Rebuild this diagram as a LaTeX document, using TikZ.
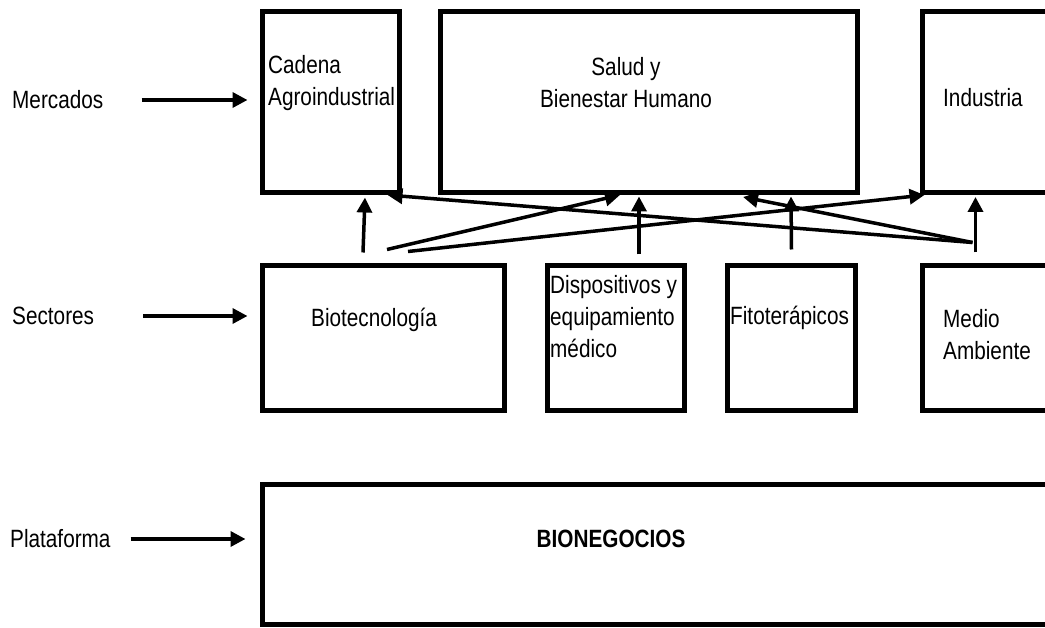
\documentclass[tikz,border=0pt]{standalone}
\usepackage{fontspec}
\setmainfont{Liberation Sans}[FakeStretch=0.83]
\usetikzlibrary{arrows.meta,calc}

\begin{document}
\begin{tikzpicture}[x=1pt,y=-1pt,
  caja/.style={draw,rectangle,line width=5pt,inner sep=0pt},
  texto/.style={inner sep=0pt,align=left,font=\fontsize{25}{32}\selectfont},
  flecha/.style={line width=3.5pt,-{Triangle[length=15pt,width=15pt]}}]

  \useasboundingbox (0,0) rectangle (1045,628);
  \clip (0,0) rectangle (1045,628);

  % mercados
  \node[caja,minimum width=137pt,minimum height=181pt] (cadena) at (331,102) {};
  \node[caja,minimum width=417pt,minimum height=181pt] (salud) at (649,102) {};
  \node[caja,minimum width=200pt,minimum height=181pt] (industria) at (1022.5,102) {};

  % sectores
  \node[caja,minimum width=242pt,minimum height=145pt] (bio) at (383.5,338) {};
  \node[caja,minimum width=137pt,minimum height=145pt] (disp) at (616,338) {};
  \node[caja,minimum width=128pt,minimum height=145pt] (fito) at (791.5,338) {};
  \node[caja,minimum width=200pt,minimum height=145pt] (medio) at (1022.5,338) {};

  % plataforma
  \node[caja,minimum width=900pt,minimum height=140pt] (bionegocios) at (712.5,554.5) {};

  \node[texto,anchor=west] (mercados) at (12,100) {Mercados};
  \node[texto,anchor=west] (sectores) at (12,316) {Sectores};
  \node[texto,anchor=west] (plataforma) at (10,539) {Plataforma};

  \node[texto,anchor=west] (tcadena) at (268,83) {Cadena\\Agroindustrial};
  \node[texto,align=center] (tsalud) at (626,83) {Salud y\\Bienestar Humano};
  \node[texto,anchor=west] (tindustria) at (943,98) {Industria};
  \node[texto,anchor=west] (tbio) at (311,320) {Biotecnología};
  \node[texto,anchor=west] (tdisp) at (550,317) {Dispositivos y\\equipamiento\\médico};
  \node[texto,anchor=west] (tfito) at (730,318) {Fitoterápicos};
  \node[texto,anchor=west] (tmedio) at (943,335) {Medio\\Ambiente};
  \node[texto,font=\fontsize{25}{32}\selectfont\bfseries] (tbionegocios) at (611,539) {BIONEGOCIOS};

  \draw[flecha] ($(mercados.east)+(38,0)$) -- ($(mercados.east -| cadena.west)+(-12.5,0)$);
  \draw[flecha] ($(sectores.east)+(49,0)$) -- ($(sectores.east -| bio.west)+(-12.5,0)$);
  \draw[flecha] ($(plataforma.east)+(20,0)$) -- ($(plataforma.east -| bionegocios.west)+(-14.5,0)$);

  \draw[flecha] ($(bio.north)+(-20.5,-10.5)$) -- ($(cadena.south)+(34,2.5)$);
  \draw[flecha] ($(bio.north)+(3.5,-13.5)$) -- ($(salud.south)+(-29,0)$);
  \draw[flecha] ($(bio.north)+(24.5,-11.5)$) -- ($(industria.south west)+(4.5,0)$);
  \draw[flecha] ($(disp.north)+(23,-8.5)$) -- ($(salud.south)+(-10,1.5)$);
  \draw[flecha] ($(fito.north)+(0,-13.5)$) -- ($(salud.south)+(142,1.5)$);
  \draw[flecha] ($(medio.north west)+(52.5,-20.5)$) -- ($(cadena.south east)+(-14.5,0)$);
  \draw[flecha] ($(medio.north west)+(52.5,-20.5)$) -- ($(salud.south)+(94,2)$);
  \draw[flecha] ($(medio.north west)+(55.5,-10.5)$) -- ($(industria.south west)+(55.5,2)$);
\end{tikzpicture}
\end{document}
